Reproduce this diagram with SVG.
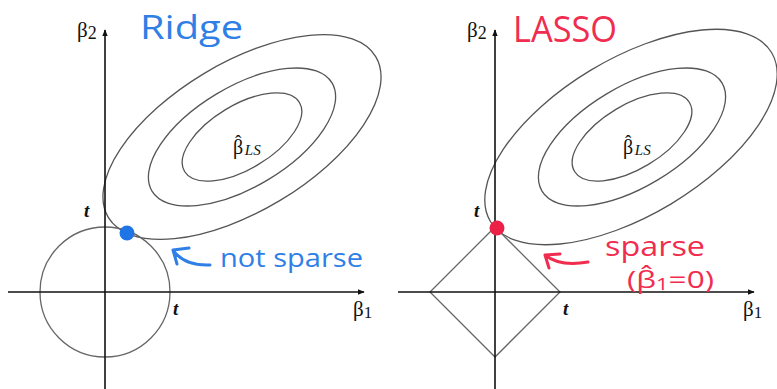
<svg xmlns="http://www.w3.org/2000/svg" width="777" height="389" viewBox="0 0 777 389">
<style>
.ax{stroke:#111;stroke-width:1.6;fill:none}
.cont{stroke:#555;stroke-width:1.3;fill:none}
.con{stroke:#666;stroke-width:1.3;fill:none}
.gk{font-family:"Liberation Serif","DejaVu Serif",serif;fill:#111}
.tt{font-family:"Liberation Serif","DejaVu Serif",serif;font-style:italic;font-weight:bold;font-size:19px;fill:#111}
.hb{font-family:"Open Sans","Liberation Sans",sans-serif;fill:#2f7fe6}
.hr{font-family:"Open Sans","Liberation Sans",sans-serif;fill:#f02d4f}
.ab{stroke:#2f7fe6;stroke-width:3;fill:none;stroke-linecap:round;stroke-linejoin:round}
.ar{stroke:#f02d4f;stroke-width:3;fill:none;stroke-linecap:round;stroke-linejoin:round}
</style>
<defs>
<marker id="tip" viewBox="0 0 10 10" refX="9" refY="5" markerWidth="7" markerHeight="7" markerUnits="userSpaceOnUse" orient="auto">
<path d="M0,1 L10,5 L0,9 Z" fill="#111"/>
</marker>
</defs>
<rect width="777" height="389" fill="#fff"/>

<g id="ridge">
<g id="ridge-contours">
<ellipse class="cont" cx="242" cy="137" rx="156" ry="74" transform="rotate(-31 242 137)"/>
<ellipse class="cont" cx="242" cy="137" rx="105" ry="50" transform="rotate(-31 242 137)"/>
<ellipse class="cont" cx="242" cy="137" rx="67" ry="32" transform="rotate(-31 242 137)"/>
</g>
<circle id="ridge-constraint" class="con" cx="105" cy="292" r="65"/>
<g id="ridge-axes">
<line class="ax" x1="105" y1="389" x2="105" y2="30" marker-end="url(#tip)"/>
<line class="ax" x1="8" y1="292" x2="364" y2="292" marker-end="url(#tip)"/>
</g>
<circle id="ridge-dot" cx="127" cy="233" r="7.5" fill="#1f74e6"/>
<text class="gk" x="77" y="37" font-size="21">β<tspan font-size="18" dy="2">2</tspan></text>
<text class="gk" x="353" y="316" font-size="21">β<tspan font-size="17" dy="2">1</tspan></text>
<text class="gk" x="233" y="154" font-size="20">β<tspan font-size="19" dx="-8.3" dy="-6">ˆ</tspan><tspan font-style="italic" font-size="15" dx="3.6" dy="7">LS</tspan></text>
<text class="tt" x="84" y="217">t</text>
<text class="tt" x="173" y="315">t</text>
<text class="hb" x="140" y="39" font-size="32" textLength="103" lengthAdjust="spacingAndGlyphs">Ridge</text>
<path class="ab" d="M210,265 Q184,266 173,250 M173,250 L189,248 M173,250 L177,264"/>
<text class="hb" x="220" y="267" font-size="26" textLength="143" lengthAdjust="spacingAndGlyphs">not sparse</text>
</g>

<g id="lasso">
<g id="lasso-contours">
<ellipse class="cont" cx="631" cy="137" rx="164" ry="78" transform="rotate(-31 631 137)"/>
<ellipse class="cont" cx="632" cy="137" rx="105" ry="50" transform="rotate(-31 632 137)"/>
<ellipse class="cont" cx="632" cy="137" rx="67" ry="32" transform="rotate(-31 632 137)"/>
</g>
<path id="lasso-constraint" class="con" d="M495,227 L560,292 L495,357 L430,292 Z"/>
<g id="lasso-axes">
<line class="ax" x1="495" y1="389" x2="495" y2="30" marker-end="url(#tip)"/>
<line class="ax" x1="398" y1="292" x2="754" y2="292" marker-end="url(#tip)"/>
</g>
<circle id="lasso-dot" cx="497" cy="228" r="7.5" fill="#ec2148"/>
<text class="gk" x="467" y="37" font-size="21">β<tspan font-size="18" dy="2">2</tspan></text>
<text class="gk" x="743" y="316" font-size="21">β<tspan font-size="17" dy="2">1</tspan></text>
<text class="gk" x="623" y="154" font-size="20">β<tspan font-size="19" dx="-8.3" dy="-6">ˆ</tspan><tspan font-style="italic" font-size="15" dx="3.6" dy="7">LS</tspan></text>
<text class="tt" x="474" y="217">t</text>
<text class="tt" x="563" y="315">t</text>
<text class="hr" x="513" y="42" font-size="36" textLength="104" lengthAdjust="spacingAndGlyphs">LASSO</text>
<path class="ar" d="M588,262 Q560,267 545,255 M545,255 L560,254 M545,255 L549,268"/>
<text class="hr" x="605" y="256" font-size="28" textLength="100" lengthAdjust="spacingAndGlyphs">sparse</text>
<text class="hr" x="627" y="288" font-size="23" textLength="87" lengthAdjust="spacingAndGlyphs">(β̂<tspan font-size="16" dy="2">1</tspan><tspan dy="-2">=0)</tspan></text>
</g>
</svg>
